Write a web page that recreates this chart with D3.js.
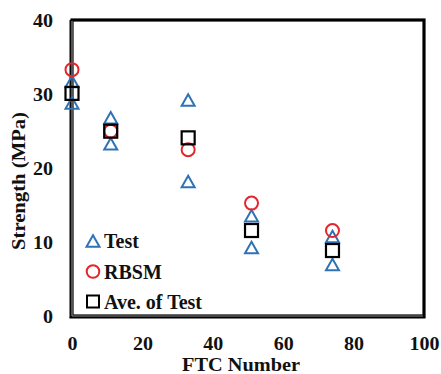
<!DOCTYPE html>
<html>
<head>
<meta charset="utf-8">
<script src="https://cdn.jsdelivr.net/npm/d3@7"></script>
<style>
  html, body { margin: 0; padding: 0; background: #fff; }
  svg { display: block; }
  text { font-family: "Liberation Serif", "Times New Roman", serif; font-weight: bold; fill: #111; }
</style>
</head>
<body>
<svg id="chart" width="441" height="374"></svg>
<script>
// ---- data ----
const ftc = [0, 11, 33, 51, 74];
const testUpper = [31.7, 26.8, 29.2, 13.6, 10.8];
const testLower = [28.8, 23.3, 18.2, 9.3, 7.0];
const rbsm = [33.3, 25.0, 22.5, 15.3, 11.6];
const aveTest = [30.1, 25.0, 24.1, 11.6, 8.9];
const xTicks = [0, 20, 40, 60, 80, 100];
const yTicks = [0, 10, 20, 30, 40];
const legendLabels = ["Test", "RBSM", "Ave. of Test"];
const xTitle = "FTC Number";
const yTitle = "Strength (MPa)";

// ---- layout ----
const svg = d3.select("#chart");
const L = 72, R = 424, T = 20, B = 316;
const x = d3.scaleLinear().domain([0, 100]).range([L, R]);
const y = d3.scaleLinear().domain([0, 40]).range([B + 0.5, T]);

const blue = "#2f72b5", red = "#e3262c";

// frame
svg.append("rect").attr("x", L).attr("y", T).attr("width", R - L).attr("height", B - T)
  .attr("fill", "none").attr("stroke", "#000").attr("stroke-width", 3.2);
// double-line effect on left and bottom
svg.append("line").attr("x1", L - 1.8).attr("x2", L - 1.8).attr("y1", T).attr("y2", B + 1.8)
  .attr("stroke", "#000").attr("stroke-width", 1.4);
svg.append("line").attr("x1", L).attr("x2", L).attr("y1", T + 1).attr("y2", B)
  .attr("stroke", "#8a8a8a").attr("stroke-width", 1.2);
svg.append("line").attr("x1", L - 2.5).attr("x2", R + 1.5).attr("y1", B + 1.8).attr("y2", B + 1.8)
  .attr("stroke", "#000").attr("stroke-width", 1.4);
svg.append("line").attr("x1", L).attr("x2", R - 1).attr("y1", B).attr("y2", B)
  .attr("stroke", "#8a8a8a").attr("stroke-width", 1.2);

// axes (labels only, no tick marks)
const xAxis = svg.append("g").attr("transform", `translate(0,${B})`)
  .call(d3.axisBottom(x).tickValues(xTicks).tickSize(0).tickPadding(0));
xAxis.select(".domain").remove();
xAxis.selectAll("text")
  .attr("y", 34).attr("dy", null)
  .style("font-size", "18px")
  .style("font-family", "Liberation Serif").style("font-weight", "bold").attr("fill", "#111")
  .each(function(d) { const n = String(d).length; d3.select(this).attr("textLength", n * 10).attr("lengthAdjust", "spacingAndGlyphs"); });

const yAxis = svg.append("g").attr("transform", `translate(${L},0)`)
  .call(d3.axisLeft(y).tickValues(yTicks).tickSize(0).tickPadding(0));
yAxis.select(".domain").remove();
yAxis.selectAll("text")
  .attr("x", -19).attr("dy", "0.34em")
  .style("font-size", "18px")
  .style("font-family", "Liberation Serif").style("font-weight", "bold").attr("fill", "#111")
  .each(function(d) { const n = String(d).length; d3.select(this).attr("textLength", n * 10).attr("lengthAdjust", "spacingAndGlyphs"); });

// titles
svg.append("text").attr("x", 241).attr("y", 371).attr("text-anchor", "middle")
  .style("font-size", "19px").attr("textLength", 118).attr("lengthAdjust", "spacingAndGlyphs")
  .text(xTitle);
svg.append("text").attr("transform", "translate(25,181) rotate(-90)").attr("text-anchor", "middle")
  .style("font-size", "19px").attr("textLength", 138).attr("lengthAdjust", "spacingAndGlyphs")
  .text(yTitle);

// marker shapes
const triS = 13, triH = 11.5;
const triPath = `M0,${-triH/2}L${triS/2},${triH/2}L${-triS/2},${triH/2}Z`;
const sq = 13;

const plot = svg.append("g");
const testPts = ftc.map((f, i) => ({ f, v: testUpper[i] })).concat(ftc.map((f, i) => ({ f, v: testLower[i] })));
plot.selectAll(".tri").data(testPts).join("path").attr("class", "tri")
  .attr("d", triPath).attr("transform", d => `translate(${x(d.f)},${y(d.v)})`)
  .attr("fill", "none").attr("stroke", blue).attr("stroke-width", 2);
plot.selectAll(".circ").data(ftc.map((f, i) => ({ f, v: rbsm[i] }))).join("circle").attr("class", "circ")
  .attr("cx", d => x(d.f)).attr("cy", d => y(d.v)).attr("r", 6.5)
  .attr("fill", "none").attr("stroke", red).attr("stroke-width", 2);
plot.selectAll(".sq").data(ftc.map((f, i) => ({ f, v: aveTest[i] }))).join("rect").attr("class", "sq")
  .attr("x", d => x(d.f) - sq / 2).attr("y", d => y(d.v) - sq / 2).attr("width", sq).attr("height", sq)
  .attr("fill", "none").attr("stroke", "#000").attr("stroke-width", 2.2);

// legend
const lg = svg.append("g");
const lgY = [241, 271.5, 301.5];
lg.append("path").attr("d", triPath).attr("transform", `translate(93,${lgY[0]})`)
  .attr("fill", "none").attr("stroke", blue).attr("stroke-width", 2);
lg.append("circle").attr("cx", 93).attr("cy", lgY[1]).attr("r", 6.3)
  .attr("fill", "none").attr("stroke", red).attr("stroke-width", 2);
lg.append("rect").attr("x", 93 - 6).attr("y", lgY[2] - 6).attr("width", 12).attr("height", 12)
  .attr("fill", "none").attr("stroke", "#000").attr("stroke-width", 2);
lg.selectAll(".lt").data(legendLabels).join("text").attr("class", "lt")
  .attr("x", 104).attr("y", (d, i) => lgY[i] + 7)
  .style("font-size", "20px").text(d => d);
</script>
</body>
</html>
